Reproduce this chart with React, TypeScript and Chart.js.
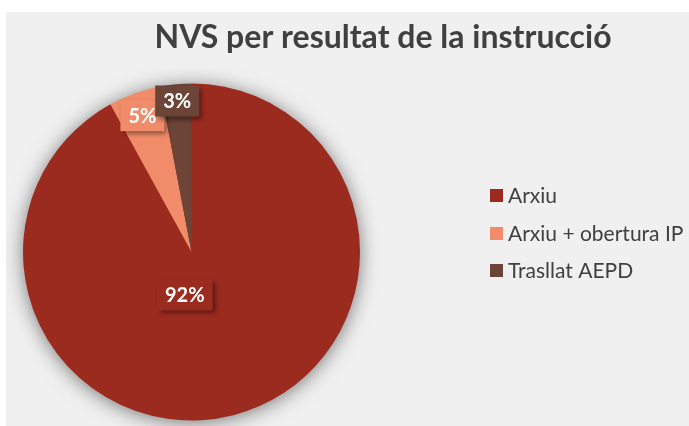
import React, { useEffect, useRef } from "react";
import { Chart, registerables } from "chart.js";

Chart.register(...registerables);

const chartTitle = "NVS per resultat de la instrucció";
const categories = ["Arxiu", "Arxiu + obertura IP", "Trasllat AEPD"];
const shares = [92, 5, 3];
const percentLabels = ["92%", "5%", "3%"];
const sliceColors = ["#9c2b1f", "#f08c69", "#6c4438"];

const FONT = "Lato, 'Open Sans', sans-serif";
const TEXT_COLOR = "#404040";

const shadowPlugin = {
  id: "pieShadow",
  beforeDatasetsDraw(chart: any) {
    const meta = chart.getDatasetMeta(0);
    const arc = meta.data[0];
    if (!arc) return;
    const { x, y, outerRadius } = arc.getProps(["x", "y", "outerRadius"], true);
    const ctx = chart.ctx;
    ctx.save();
    ctx.shadowColor = "rgba(0,0,0,0.55)";
    ctx.shadowBlur = 20;
    ctx.shadowOffsetY = 2;
    ctx.fillStyle = sliceColors[0];
    ctx.beginPath();
    ctx.arc(x, y, outerRadius - 1, 0, Math.PI * 2);
    ctx.fill();
    ctx.restore();
  },
};

const labelPlugin = {
  id: "pctLabels",
  afterDatasetsDraw(chart: any) {
    const meta = chart.getDatasetMeta(0);
    const ctx = chart.ctx;
    const radial = [0, 0.86, 0.9];
    meta.data.forEach((arc: any, i: number) => {
      const { x, y, startAngle, endAngle, outerRadius } = arc.getProps(
        ["x", "y", "startAngle", "endAngle", "outerRadius"],
        true
      );
      let lx: number, ly: number;
      if (i === 0) {
        lx = x - 0.04 * outerRadius;
        ly = y + 0.255 * outerRadius;
      } else {
        const mid = (startAngle + endAngle) / 2;
        lx = x + Math.cos(mid) * outerRadius * radial[i];
        ly = y + Math.sin(mid) * outerRadius * radial[i];
      }
      const text = percentLabels[i];
      ctx.save();
      ctx.font = `bold 20px ${FONT}`;
      const w = ctx.measureText(text).width + 16;
      const h = 31;
      ctx.shadowColor = "rgba(0,0,0,0.45)";
      ctx.shadowBlur = 5;
      ctx.shadowOffsetX = 3;
      ctx.shadowOffsetY = 3;
      ctx.fillStyle = sliceColors[i];
      ctx.fillRect(lx - w / 2, ly - h / 2, w, h);
      ctx.restore();
      ctx.save();
      ctx.font = `bold 20px ${FONT}`;
      ctx.fillStyle = "#ffffff";
      ctx.textAlign = "center";
      ctx.textBaseline = "middle";
      ctx.fillText(text, lx, ly + 1);
      ctx.restore();
    });
  },
};

const decorPlugin = {
  id: "decor",
  afterDraw(chart: any) {
    const ctx = chart.ctx;
    ctx.save();
    ctx.fillStyle = TEXT_COLOR;
    ctx.font = `bold 32px ${FONT}`;
    ctx.textAlign = "center";
    ctx.textBaseline = "alphabetic";
    ctx.fillText(chartTitle, 377, 36);
    ctx.font = `21px ${FONT}`;
    ctx.textAlign = "left";
    ctx.textBaseline = "middle";
    const rows = [183, 221, 258];
    categories.forEach((c, i) => {
      ctx.fillStyle = sliceColors[i];
      ctx.fillRect(484, rows[i] - 6, 13, 13);
      ctx.fillStyle = TEXT_COLOR;
      ctx.fillText(c, 502, rows[i] + 1);
    });
    ctx.restore();
  },
};

export default function App() {
  const ref = useRef<HTMLCanvasElement | null>(null);
  useEffect(() => {
    if (!ref.current) return;
    const chart = new Chart(ref.current, {
      type: "pie",
      data: {
        labels: categories,
        datasets: [
          {
            data: shares,
            backgroundColor: sliceColors,
            borderWidth: 0,
          },
        ],
      },
      options: {
        animation: false,
        responsive: false,
        maintainAspectRatio: false,
        layout: { padding: { top: 71, bottom: 5, left: 17, right: 329 } },
        plugins: {
          legend: { display: false },
          title: { display: false },
          tooltip: { enabled: false },
        },
      },
      plugins: [shadowPlugin, labelPlugin, decorPlugin],
    });
    return () => chart.destroy();
  }, []);
  return (
    <div
      style={{
        position: "fixed",
        left: 6,
        top: 12,
        width: 683,
        height: 414,
        background: "#f0f0f0",
      }}
    >
      <canvas ref={ref} width={683} height={414} style={{ display: "block" }} />
    </div>
  );
}
